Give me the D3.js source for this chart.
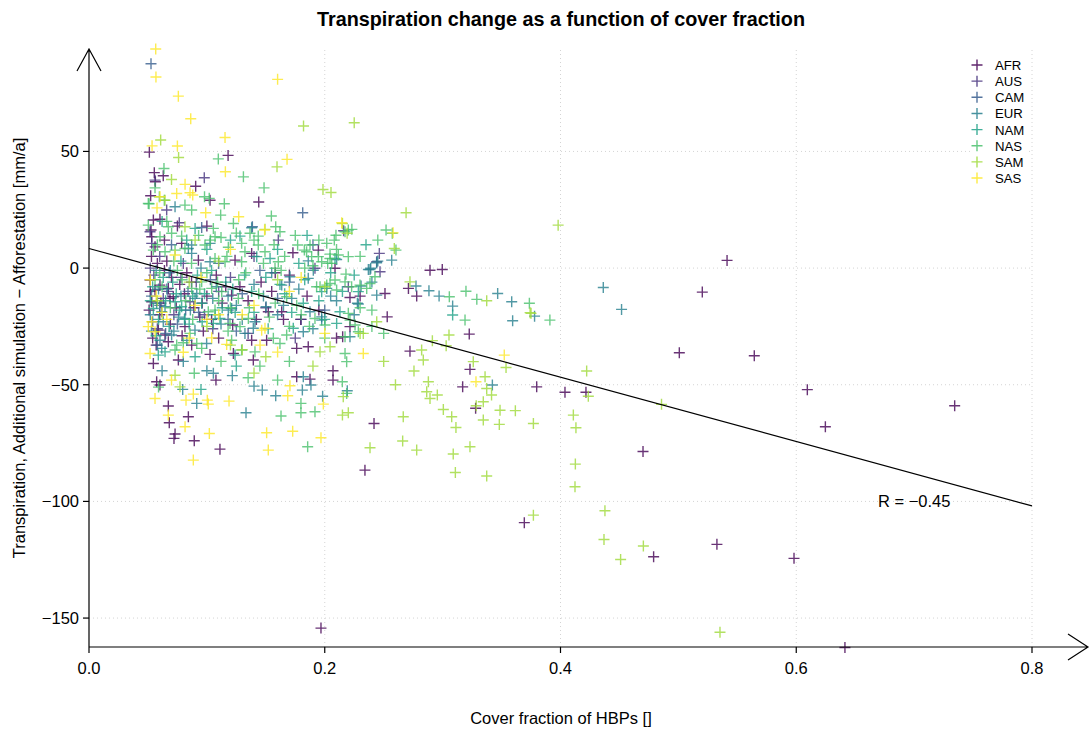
<!DOCTYPE html>
<html><head><meta charset="utf-8">
<script src="https://cdn.jsdelivr.net/npm/d3@7"></script>
<style>body{margin:0;background:#fff} text{font-family:"Liberation Sans",Arial,sans-serif;fill:#000}</style>
</head><body><svg id="c" width="1091" height="731"></svg>
<script>
const regions = ["AFR","AUS","CAM","EUR","NAM","NAS","SAM","SAS"];
const colors = ["#440154","#46337E","#365C8D","#277F8E","#1FA187","#4AC16D","#9FDA3A","#FDE725"];

const AFR = [[0.0512,49.7],[0.118,48.3],[0.0554,40.9],[0.063,39.6],[0.0563,37],[0.0905,35.1],[0.1027,29.1],[0.144,28.3],[0.0523,31],[0.173,6.6],[0.1946,7.7],
[0.2893,-0.9],[0.2997,-0.6],[0.271,-8.7],[0.278,-12],[0.253,-20.9],[0.3226,-28.3],[0.2723,-35.6],[0.3232,-43.4],[0.317,-50.9],[0.3798,-50.9],[0.4038,-53.2],[0.4216,-53.2],[0.328,-60.1],[0.2418,-66.6],[0.2341,-86.6],[0.207,-44],[0.207,-48],
[0.5413,3.3],[0.5203,-10.3],[0.5008,-36.3],[0.5644,-37.6],[0.6094,-52.1],[0.7344,-59],[0.6247,-68],[0.47,-78.6],[0.3693,-109.1],[0.479,-123.7],[0.5327,-118.4],[0.5981,-124.4],[0.6413,-162.6],[0.1968,-154.3],
[0.1077,-48],[0.0574,-48.7],[0.0602,-50.1],[0.0673,-59.1],[0.0681,-66.3],[0.0843,-63.7],[0.073,-71.1],[0.0721,-73],[0.0893,-74],[0.1111,-77.6],[0.1762,-46.6],[0.1875,-47.6],
[0.0546,20.6],[0.0602,20.9],[0.0526,16.3],[0.0532,13.4],[0.056,9.1],[0.0786,10.6],[0.138,6.3],[0.0928,3.4],[0.1239,3.4],
[0.2087,-0.1],[0.2214,-12.6],[0.2511,-10.9],[0.2214,-25.1],[0.2152,-29.4],
[0.0518,-5.1],[0.056,-9.4],[0.0602,-7.3],[0.0673,-8.7],[0.0687,-13],[0.0532,-14.4],[0.0715,-12.3],[0.121,-11.6],[0.1219,-24.4],[0.0814,-25.1],[0.0588,-26.6],[0.0645,-28.7],[0.0673,-31.6],[0.0546,-40.9],[0.0758,-39.4],[0.1027,-37],[0.0871,-33],[0.138,-30.9],[0.1225,-36.6],[0.1394,-39.4],
[0.1796,-22],[0.186,-33.7],[0.1507,-30.9],[0.1762,-34.4],[0.1521,-18.7],[0.1635,-18.7],
[0.058,2],[0.064,-1],[0.07,-4],[0.077,-7],[0.083,-2],[0.089,-17],[0.094,-21],[0.1,-12],[0.108,-3],[0.113,-15],[0.128,-8],[0.135,-14],[0.146,-6],[0.155,-10],[0.165,-22],[0.17,-3],[0.185,-12],[0.06,-20],[0.054,-30],[0.079,-29],[0.097,-27],[0.11,-30],[0.064,12],[0.1,18],[0.052,-10],
[0.051,-18],[0.053,5],[0.057,-33],[0.061,-15],[0.066,3],[0.069,-24],[0.074,-17],[0.081,-11],[0.087,-6],[0.096,-15],[0.104,-22],[0.116,-8],[0.142,-22],[0.158,-2],[0.195,-18],[0.23,-12],[0.21,-30],[0.075,18]];

const AUS = [[0.0978,38.7],[0.0659,24.9],[0.216,16],[0.2463,6.3],[0.2469,-1.6],[0.056,37.7],[0.0766,19.4],[0.0518,15.6],[0.0532,10.6],[0.1606,12],[0.2441,2.7],[0.1917,-0.1],[0.0857,-14.4],
[0.055,-3],[0.063,-13],[0.072,-20],[0.08,2],[0.091,-6],[0.105,-26],[0.12,-4],[0.135,-28],[0.15,-17],[0.175,-30],[0.06,5],
[0.052,0],[0.058,-26],[0.067,-10],[0.078,-4],[0.098,-20],[0.11,-10],[0.14,5],[0.18,-22],[0.22,-8]];

const CAM = [[0.0526,87.6],[0.1813,23.7],[0.1386,17.7],[0.0956,17.4],
[0.053,-12],[0.06,-16],[0.068,-2],[0.075,-24],[0.084,-10],[0.093,-19],[0.103,-5],[0.118,-22],[0.13,-11],[0.145,-1],[0.16,-13],[0.2,-18],[0.058,-33],[0.07,10],
[0.054,-23],[0.065,-28],[0.082,-18],[0.11,2],[0.125,-27],[0.17,-6],[0.19,10]];

const EUR = [[0.237,-0.6],[0.244,2.3],[0.245,3],[0.2568,3.4],[0.2384,-0.6],[0.2774,-7.7],[0.2884,-9.7],[0.297,-12],[0.3467,-10.9],[0.3586,-14.4],[0.3085,-16.3],[0.3594,-22.6],[0.378,-20.6],[0.4363,-8.3],[0.4518,-17.7],[0.3422,-50.1],[0.2191,-52.6],[0.1055,-45.1],[0.1216,-46.1],[0.0795,-52],[0.0914,-58],[0.1332,-62],[0.14,-50.6],[0.147,-52.3],[0.1584,-54.7],[0.181,-52.3],[0.1883,-50.1],[0.1982,-54.9],[0.1818,-46.6],
[0.073,26.3],[0.138,17.3],[0.0871,9.9],[0.1027,10.6],[0.0843,8.4],[0.1027,2.7],[0.0871,6.3],
[0.2101,3.7],[0.186,3.1],[0.1903,-0.9],[0.1705,-3.7],[0.1635,-7.3],[0.186,-4.4],[0.2017,-8.7],[0.2308,-7.7],[0.2441,-11.6],[0.2285,-15.4],[0.1974,-20.9],[0.2214,-29.4],
[0.0574,-15.1],[0.0645,-16.6],[0.0617,-18.7],[0.0914,-10.9],[0.121,-17.3],[0.0814,-21.6],[0.0899,-26.6],[0.0602,-30.9],[0.0617,-34.4],[0.0701,-28.7],[0.0998,-32.3],[0.1394,-25.8],[0.1323,-28],
[0.2277,-15.1],[0.239,-0.1],[0.1974,-22.3],[0.1818,-27.3],[0.1408,-23],[0.1502,-16.6],[0.1182,-18],[0.1875,-18.7],
[0.052,-20],[0.057,-1],[0.066,-9],[0.072,-27],[0.078,-12],[0.086,-18],[0.095,0],[0.105,-13],[0.112,-24],[0.125,-16],[0.14,-7],[0.155,-2],[0.165,-16],[0.178,-9],[0.19,-26],[0.21,-14],[0.08,-40],[0.1,-44],[0.062,-44],
[0.053,-27],[0.059,-9],[0.063,-23],[0.069,-1],[0.076,-21],[0.083,-31],[0.09,-13],[0.108,-8],[0.118,-12],[0.13,-22],[0.148,-12],[0.16,-20],[0.172,-13],[0.205,-12],[0.225,-20],[0.24,-6]];

const NAM = [[0.0546,-17.3],[0.073,-14.4],[0.0786,-16.6],[0.1111,-21.6],[0.1055,-23.7],[0.0588,-37.3],[0.0645,-35.9],
[0.054,-8],[0.059,-22],[0.065,-14],[0.071,-6],[0.077,-18],[0.085,-24],[0.092,-3],[0.098,-11],[0.107,-20],[0.116,-6],[0.124,-19],[0.132,-3],[0.14,-19],[0.152,-26],[0.162,-7],[0.172,-19],[0.183,-5],[0.195,-14],[0.205,-2],[0.215,-10],[0.09,-38],[0.125,-42],[0.078,3],[0.1,8],[0.12,12],[0.16,8],[0.185,14],[0.095,-52],
[0.1281,13.7],[0.0829,12],[0.1423,4.9],[0.1536,4.1],[0.2087,4.1],[0.1974,-10.1],[0.2285,-10.1],[0.2101,-23.7],[0.0956,-15.1],[0.1239,-37.3],[0.1733,-25.8],[0.1818,-15.1],[0.2129,-18.7],[0.3085,-20.1],
[0.052,-14],[0.057,-29],[0.063,-4],[0.068,-25],[0.074,-11],[0.081,-22],[0.088,-12],[0.096,-23],[0.104,-1],[0.113,-17],[0.122,-9],[0.138,-10],[0.15,-4],[0.166,-11],[0.178,2],[0.2,-22],[0.225,-3],[0.235,10],[0.062,20],[0.09,17]];

const NAS = [[0.1097,46.8],[0.131,39.1],[0.0636,42.7],[0.1485,34.4],[0.098,30.6],[0.102,29.9],[0.1148,27.6],[0.051,27.6],[0.0597,30.6],[0.0639,29.1],[0.1547,22.3],[0.1117,22.7],[0.22,16.3],[0.1225,19.1],
[0.223,16.6],[0.252,16.3],[0.2095,14.1],[0.2604,7.7],[0.2426,-3.7],[0.218,-2.6],[0.3057,-12.3],[0.3198,-9.9],[0.329,-13.4],[0.3736,-15.1],[0.391,-22.3],[0.319,-22.3],
[0.0893,-45.1],[0.059,-51],[0.1629,-63.4],[0.1798,-62],[0.1917,-61.6],[0.1855,-76.6],[0.1798,-58],[0.2149,-48.7],[0.2186,-53.7],
[0.056,34.4],[0.0503,27.7],[0.0814,27],[0.0871,24.9],[0.0503,18.4],[0.0673,17.7],[0.1055,17],[0.1366,14.9],[0.1436,13.7],[0.1069,13.4],[0.112,13.1],[0.0602,13.4],[0.0701,14.9],[0.0786,13.7],[0.0984,9.9],[0.1182,8.9],[0.1295,10.6],[0.1323,7],[0.0546,7.7],[0.0645,7],[0.073,7.7],[0.0814,8.4],[0.1069,4.1],[0.1154,2.7],[0.1295,2.7],
[0.1584,17.7],[0.162,15.6],[0.2172,15.6],[0.2081,12],[0.2017,10.6],[0.177,9.9],[0.1875,9.9],[0.1827,7.7],[0.2045,6],[0.2025,2],[0.1974,2.7],[0.2059,2],[0.1846,7],[0.1889,4.9],[0.2573,14.9],[0.1436,9.9],[0.1493,7],[0.1606,2.7],[0.1578,-0.1],[0.1931,-8],[0.2017,-7.3],[0.2087,-5.1],[0.2172,-5.9],[0.2228,-8],[0.2356,-8.7],[0.2214,-22.3],[0.2257,-24.4],[0.2002,-24.4],[0.1917,-21.6],
[0.0871,-8.7],[0.0956,-5.9],[0.1041,-8.7],[0.1126,-10.1],[0.1267,-13],[0.1012,-18.7],[0.1069,-18],[0.0857,-28],[0.0956,-34.4],[0.0914,-32.3],[0.121,-30.9],[0.0744,-33],[0.073,-35.1],[0.1352,-21.6],[0.1295,-35.1],[0.1408,-35.9],
[0.1946,4.9],[0.2045,4.1],[0.2115,5.6],[0.22,4.9],[0.196,-8],[0.2045,-6.6],[0.2101,-9.4],[0.2299,-7.3],[0.2384,-6.6],[0.22,-19.4],[0.2172,-29.4],[0.2285,-27.3],[0.2186,-40.1],[0.2172,-36.6],[0.1677,-28.7],[0.1564,-30.1],[0.162,-32.3],[0.1196,-23.7],[0.1281,-25.1],[0.1677,-12.3],[0.1762,-15.9],
[0.056,-5],[0.062,-8],[0.069,-17],[0.075,-1],[0.082,-14],[0.088,-22],[0.094,-9],[0.1,-2],[0.11,-14],[0.118,-27],[0.127,-5],[0.136,-17],[0.144,-11],[0.153,-21],[0.163,-1],[0.17,-25],[0.18,-20],[0.19,1],[0.2,-30],[0.08,-32],[0.112,-40],[0.145,-42],[0.17,-40],[0.16,-48],[0.06,-2],[0.135,-47],[0.24,-18],[0.25,-28],
[0.058,10],[0.066,20],[0.072,3],[0.079,-5],[0.087,2],[0.093,14],[0.103,12],[0.109,-6],[0.117,5],[0.125,15],[0.133,-2],[0.14,12],[0.148,2],[0.157,10],[0.166,5],[0.175,14],[0.183,0],[0.195,12],[0.21,8],[0.23,5],[0.245,12],[0.12,-17],[0.158,-15],[0.187,-25],[0.23,-17],[0.24,-25]];

const SAM = [[0.0608,54.9],[0.076,47.4],[0.1595,43.4],[0.070,38],[0.1985,33.7],[0.2053,32.4],[0.182,60.9],[0.225,62.3],[0.219,14.9],[0.269,23.7],[0.398,18.4],[0.215,19.1],[0.259,8.4],[0.2723,-5.9],[0.3374,-14],[0.375,-19.4],[0.3054,-28.7],[0.2913,-31.1],[0.303,-33.3],[0.2822,-35.1],[0.2836,-39.4],[0.326,-40.1],[0.3538,-42.6],[0.2757,-44.1],[0.4222,-44.1],[0.2879,-48.7],[0.336,-46.6],[0.3374,-51.6],[0.3415,-54.4],[0.4236,-54.9],[0.2865,-53],[0.2955,-54.4],[0.2893,-55.9],[0.3345,-57.3],[0.3285,-59],[0.3006,-60.6],[0.3077,-63.7],[0.3487,-60.9],[0.3617,-61.1],[0.3345,-65.1],[0.3481,-67],[0.377,-66.6],[0.4109,-63],[0.4131,-68.4],[0.3113,-68.3],[0.2666,-63.7],[0.2661,-74.1],[0.278,-78],[0.2384,-77],[0.3232,-76.6],[0.309,-79.7],[0.3108,-87.6],[0.3374,-89.1],[0.4126,-84],[0.2157,-55.1],[0.22,-62],[0.215,-63],
[0.4857,-58.4],[0.4123,-93.7],[0.4377,-104],[0.377,-105.9],[0.4369,-116.3],[0.4703,-119.1],[0.451,-124.9],[0.5353,-156.1],[0.3742,-19.1],
[0.073,-45.9],[0.0772,-50.9],[0.0645,29.1],[0.0814,17.7],[0.1493,16.6],[0.2441,-23],[0.2045,-33.7],[0.196,-35.9],[0.2327,-28],
[0.058,-14],[0.085,-6],[0.12,-33],[0.15,-38],[0.19,-42],[0.25,-40],[0.26,-50],[0.23,-28],[0.11,3],[0.09,12],[0.14,-45],
[0.1,-25],[0.16,-5],[0.2,-8],[0.13,-35]];

const SAS = [[0.0566,93.9],[0.0568,81.9],[0.0758,73.7],[0.0863,64],[0.160,80.9],[0.1154,56],[0.0535,52.4],[0.075,52.3],[0.168,46.6],[0.1157,41.3],[0.0815,35.9],[0.0857,32.3],[0.088,31.3],[0.0744,32],[0.0577,25.8],[0.127,22],[0.099,23.7],[0.2144,19.4],[0.149,16.3],[0.258,15.1],[0.2327,-36.6],[0.3523,-37.3],[0.3283,-48.7],
[0.056,-55.9],[0.0823,-56.6],[0.0885,-54],[0.1004,-56.6],[0.1012,-58.3],[0.1188,-57],[0.0673,-63],[0.0815,-68],[0.0885,-82.3],[0.1021,-70.9],[0.1507,-70.6],[0.1728,-69.9],[0.1521,-78],[0.1968,-72.7],[0.1686,-54.7],[0.1705,-50.4],[0.1988,-58.3],
[0.0602,30.6],[0.073,5.6],[0.0532,-23],[0.0503,-25.1],[0.056,-27.3],[0.0518,-36.6],[0.08,-36.1],[0.1041,-29.9],[0.1168,-32.7],[0.1465,-26.6],[0.1493,-25.8],[0.1451,-33],
[0.057,-12],[0.062,-19],[0.085,-30],[0.1,-22],[0.13,-20],[0.16,-36],[0.12,8],[0.09,-16],[0.18,-4],[0.2,-28],[0.07,-48],
[0.052,-5],[0.066,-22],[0.095,-4],[0.11,-20],[0.14,-16],[0.17,-10]];

const series = [AFR,AUS,CAM,EUR,NAM,NAS,SAM,SAS];
const xTicks = [0,0.2,0.4,0.6,0.8];
const yTicks = [-150,-100,-50,0,50];
const fit = {intercept: 8.4, slope: -137.9, x0: 0, x1: 0.8, label: "R = \u22120.45"};

const svg = d3.select("#c");
const x = d3.scaleLinear().domain([0,0.8]).range([89,1032]);
const y = d3.scaleLinear().domain([-162.4,93.9]).range([647,49]);
const X0 = x(0), Y0 = 647, XEND = 1088, YTOP = 49;

// grid
const g = svg.append("g").attr("stroke","#d4d4d4").attr("stroke-dasharray","1,3").attr("stroke-width",1);
yTicks.forEach(t=>g.append("line").attr("x1",X0).attr("x2",x(0.8)).attr("y1",y(t)).attr("y2",y(t)));
xTicks.filter(t=>t>0).forEach(t=>g.append("line").attr("x1",x(t)).attr("x2",x(t)).attr("y1",Y0).attr("y2",YTOP));

// points
const s = 5.5;
series.forEach((data,i)=>{
  const gp = svg.append("g").attr("stroke",colors[i]).attr("stroke-width",1.4).attr("stroke-opacity",0.8);
  gp.selectAll("path").data(data).enter().append("path")
    .attr("d",d=>{const px=x(d[0]),py=y(d[1]);return `M${px-s},${py}H${px+s}M${px},${py-s}V${py+s}`;});
});

// regression line
svg.append("line").attr("x1",x(fit.x0)).attr("y1",y(fit.intercept+fit.slope*fit.x0))
  .attr("x2",x(fit.x1)).attr("y2",y(fit.intercept+fit.slope*fit.x1))
  .attr("stroke","#000").attr("stroke-width",1.2);
svg.append("text").attr("x",878).attr("y",507).attr("font-size",16.5).text(fit.label);

// axes
const ax = svg.append("g").attr("stroke","#000").attr("stroke-width",1.2).attr("fill","none");
ax.append("path").attr("d",`M${X0},${Y0}H${XEND}M${XEND-20},${Y0-13}L${XEND},${Y0}L${XEND-20},${Y0+13}`);
ax.append("path").attr("d",`M${X0},${Y0}V${YTOP}M${X0-12},${YTOP+22}L${X0},${YTOP}L${X0+12},${YTOP+22}`);
xTicks.forEach(t=>ax.append("line").attr("x1",x(t)).attr("x2",x(t)).attr("y1",Y0).attr("y2",Y0+6));
yTicks.forEach(t=>ax.append("line").attr("x1",X0-6).attr("x2",X0).attr("y1",y(t)).attr("y2",y(t)));
const fx = d3.format(".1f");
xTicks.forEach(t=>svg.append("text").attr("x",x(t)).attr("y",674).attr("text-anchor","middle").attr("font-size",16.5).text(fx(t)));
yTicks.forEach(t=>svg.append("text").attr("x",79).attr("y",y(t)+6).attr("text-anchor","end").attr("font-size",16.5).text(String(t).replace("-","\u2212")));

// titles
svg.append("text").attr("x",561).attr("y",26).attr("text-anchor","middle").attr("font-size",19.8).attr("font-weight","bold").text("Transpiration change as a function of cover fraction");
svg.append("text").attr("x",561).attr("y",724).attr("text-anchor","middle").attr("font-size",16.5).text("Cover fraction of HBPs []");
svg.append("text").attr("transform","translate(25,348) rotate(-90)").attr("text-anchor","middle").attr("font-size",16.5).text("Transpiration, Additional simulation \u2212 Afforestation [mm/a]");

// legend
const lg = svg.append("g");
lg.append("rect").attr("x",970).attr("y",55).attr("width",58).attr("height",132).attr("fill","#fff");
regions.forEach((r,i)=>{
  const ly = 65 + i*16.15;
  lg.append("path").attr("d",`M${977-s},${ly}H${977+s}M977,${ly-s}V${ly+s}`).attr("stroke",colors[i]).attr("stroke-width",1.4).attr("stroke-opacity",0.85);
  lg.append("text").attr("x",995).attr("y",ly+5).attr("font-size",13.2).text(r);
});
</script></body></html>
